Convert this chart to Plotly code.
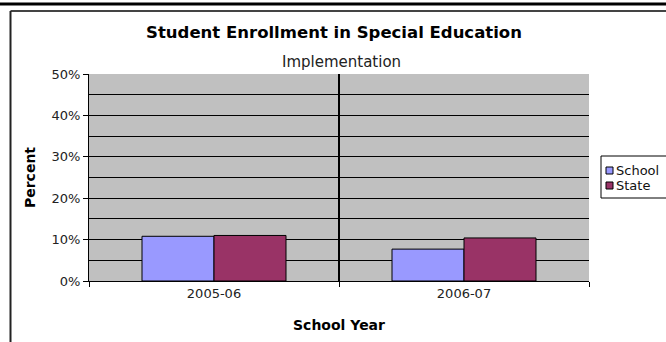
import plotly.graph_objects as go

years = ["2005-06", "2006-07"]
school = [0.108, 0.077]
state = [0.110, 0.104]
series_names = ["School", "State"]
series_colors = ["#9999ff", "#993366"]
y_ticks = [0, 0.1, 0.2, 0.3, 0.4, 0.5]
y_tick_labels = ["0%", "10%", "20%", "30%", "40%", "50%"]

W, H = 666, 342
L, R, T, B = 89, 589, 74, 281

def px(x):
    return (x - L) / (R - L)

def py(y):
    return (B - y) / (B - T)

fig = go.Figure()
for name, vals, col in zip(series_names, [school, state], series_colors):
    fig.add_trace(go.Bar(x=years, y=vals, name=name, showlegend=False,
                         marker=dict(color=col, line=dict(color="black", width=1))))

# manual legend (Excel-style, clipped at right edge)
legend_shapes = [dict(type="rect", xref="paper", yref="paper",
                      x0=px(601), x1=px(700), y0=py(198), y1=py(156),
                      line=dict(color="black", width=1), fillcolor="white", layer="above")]
legend_ann = []
for i, (name, col) in enumerate(zip(series_names, series_colors)):
    cy = 170.5 + 15 * i
    legend_shapes.append(dict(type="rect", xref="paper", yref="paper",
                              x0=px(606), x1=px(613), y0=py(cy + 3.5), y1=py(cy - 3.5),
                              line=dict(color="black", width=1), fillcolor=col, layer="above"))
    legend_ann.append(dict(text=name, x=px(614), y=py(cy), xref="paper", yref="paper",
                           xanchor="left", yanchor="middle", showarrow=False,
                           font=dict(family="DejaVu Sans", size=13, color="#111")))

fig.update_layout(
    width=W, height=H,
    margin=dict(l=L, r=W - R, t=T, b=H - B, pad=0, autoexpand=False),
    paper_bgcolor="white",
    plot_bgcolor="#c0c0c0",
    barmode="group",
    bargap=0.424,
    bargroupgap=0,
    showlegend=False,
    font=dict(family="DejaVu Sans", size=13, color="#222"),
    title=dict(text="<b>Student Enrollment in Special Education</b>",
               x=px(334), xref="paper", xanchor="center",
               y=1 - 32 / H, yanchor="middle",
               font=dict(family="DejaVu Sans", size=16.5, color="black")),
    xaxis=dict(type="category", showline=True, linecolor="black", linewidth=1,
               ticks="outside", tickson="boundaries", ticklen=5, tickcolor="black",
               showgrid=False,
               tickfont=dict(family="DejaVu Sans", size=13, color="#222"),
               title=dict(text="<b>School Year</b>", standoff=20,
                          font=dict(family="DejaVu Sans", size=14, color="black"))),
    yaxis=dict(range=[0, 0.5], tickvals=y_ticks, ticktext=y_tick_labels,
               showline=True, linecolor="black", linewidth=1,
               ticks="outside", ticklen=5, tickcolor="black",
               showgrid=True, gridcolor="black", gridwidth=1,
               minor=dict(dtick=0.05, showgrid=True, gridcolor="black", gridwidth=1),
               zeroline=False,
               tickfont=dict(family="DejaVu Sans", size=13, color="#222"),
               title=dict(text="<b>Percent</b>", standoff=12,
                          font=dict(family="DejaVu Sans", size=14, color="black"))),
    annotations=[dict(text="Implementation", x=px(341), y=py(62), xref="paper", yref="paper",
                      xanchor="center", yanchor="middle", showarrow=False,
                      font=dict(family="DejaVu Sans", size=15, color="#222"))] + legend_ann,
    shapes=[
        dict(type="line", xref="x", yref="paper", x0=0.5, x1=0.5, y0=0, y1=1,
             line=dict(color="black", width=2)),
        dict(type="line", xref="paper", yref="paper", x0=px(0), x1=px(666), y0=py(4), y1=py(4),
             line=dict(color="black", width=3)),
        dict(type="line", xref="paper", yref="paper", x0=px(10.5), x1=px(666), y0=py(11), y1=py(11),
             line=dict(color="#444", width=2)),
        dict(type="line", xref="paper", yref="paper", x0=px(10.5), x1=px(10.5), y0=py(11), y1=py(342),
             line=dict(color="#222", width=2)),
    ] + legend_shapes,
)

fig.write_html("out.html", config={"displayModeBar": False},
               post_script="document.body.style.margin='0';")
